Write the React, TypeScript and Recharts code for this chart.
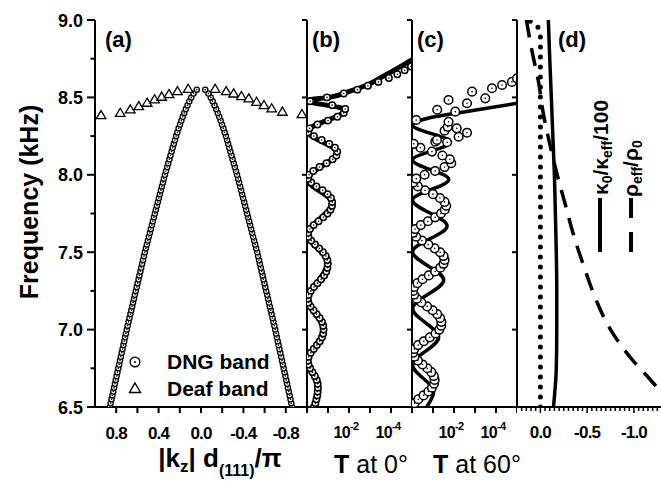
import React from 'react';
import { ScatterChart, Scatter, XAxis, YAxis } from 'recharts';

const FONT = 'Arial, "Liberation Sans", Helvetica, sans-serif';
const INK = '#000';

// shared frequency axis (kHz)
const FREQ_TICKS = [6.5, 6.75, 7.0, 7.25, 7.5, 7.75, 8.0, 8.25, 8.5, 8.75, 9.0];
const FREQ_MAJOR = [6.5, 7.0, 7.5, 8.0, 8.5, 9.0];

// (a) band structure: |kz| d(111)/pi vs frequency
const K_TICKS = [0.8, 0.6, 0.4, 0.2, 0, -0.2, -0.4, -0.6, -0.8];
const K_LABELS = [0.8, 0.4, 0, -0.4, -0.8];
const DNG_F0 = 6.5;
const DNG_STEP = 0.025;
const dngK = [
  0.86, 0.852, 0.844, 0.836, 0.828, 0.82, 0.812, 0.804, 0.796, 0.788,
  0.78, 0.772, 0.764, 0.756, 0.748, 0.74, 0.732, 0.724, 0.716, 0.708,
  0.7, 0.692, 0.683, 0.675, 0.666, 0.658, 0.649, 0.641, 0.632, 0.624,
  0.615, 0.606, 0.598, 0.589, 0.581, 0.572, 0.564, 0.555, 0.547, 0.538,
  0.53, 0.52, 0.511, 0.501, 0.492, 0.482, 0.473, 0.463, 0.454, 0.444,
  0.435, 0.426, 0.416, 0.407, 0.397, 0.388, 0.378, 0.369, 0.359, 0.35,
  0.34, 0.33, 0.319, 0.309, 0.298, 0.288, 0.277, 0.267, 0.256, 0.246,
  0.235, 0.223, 0.211, 0.198, 0.185, 0.172, 0.158, 0.143, 0.127, 0.11,
  0.092, 0.07, 0.04,
];
const deafK = [0.943, 0.762, 0.667, 0.587, 0.508, 0.438, 0.371, 0.302, 0.222, 0.121,
  -0.133, -0.238, -0.308, -0.381, -0.451, -0.524, -0.594, -0.667, -0.768, -0.952];
const deafF = [8.386, 8.401, 8.423, 8.444, 8.466, 8.488, 8.505, 8.522, 8.541, 8.556,
  8.556, 8.541, 8.526, 8.509, 8.494, 8.472, 8.451, 8.43, 8.408, 8.393];

// (b), (c) transmission, stored as log10 T
const LOG_TICKS = [0, -1, -2, -3, -4, -5];
const LOG_LABELS = [-2, -4];
const T_F0 = 6.5;
const T_STEP = 0.025;

const bLineF = [6.5, 6.625, 6.795, 7.0, 7.195, 7.43, 7.615, 7.82, 7.97, 8.145, 8.28, 8.42, 8.48,
  8.5, 8.537, 8.58, 8.634, 8.688, 8.74, 8.8];
const bLineT = [-0.33, -0.52, -0.03, -0.79, -0.03, -0.99, -0.03, -1.2, -0.03, -1.44, -0.03, -1.82, -0.03,
  -1.05, -1.98, -2.86, -3.6, -4.3, -4.95, -5.5];
const bDotT = [
  -0.33, -0.4, -0.45, -0.49, -0.51, -0.52, -0.51, -0.46, -0.37, -0.26,
  -0.15, -0.07, -0.04, -0.08, -0.18, -0.32, -0.47, -0.61, -0.71, -0.77,
  -0.79, -0.77, -0.71, -0.6, -0.46, -0.31, -0.17, -0.07, -0.04, -0.08,
  -0.18, -0.33, -0.5, -0.67, -0.82, -0.92, -0.97, -0.99, -0.97, -0.89,
  -0.76, -0.58, -0.38, -0.2, -0.07, -0.05, -0.14, -0.32, -0.55, -0.78,
  -0.98, -1.12, -1.19, -1.2, -1.14, -0.98, -0.74, -0.45, -0.2, -0.05,
  -0.1, -0.3, -0.6, -0.93, -1.22, -1.4, -1.44, -1.33, -1.06, -0.7,
  -0.33, -0.06, -0.12, -0.5, -1.0, -1.45, -1.75, -1.82, -1.2, -0.15,
  -0.95, -1.75, -2.4, -2.9, -3.4, -3.9, -4.3, -4.65, -4.95, -5.2,
];

const cLineF = [6.5, 6.6, 6.771, 6.95, 7.137, 7.32, 7.503, 7.67, 7.837, 7.97, 8.096, 8.21, 8.322,
  8.367, 8.415, 8.462, 8.5];
const cLineT = [-0.7, -1.03, -0.03, -1.27, -0.03, -1.51, -0.03, -1.67, -0.03, -1.75, -0.03, -1.83, -0.03,
  -0.8, -2.9, -5.0, -6.6];
const cDotT = [
  -0.05, -0.12, -0.3, -0.55, -0.78, -0.95, -1.05, -1.08, -1.04, -0.92,
  -0.73, -0.5, -0.28, -0.12, -0.05, -0.11, -0.29, -0.56, -0.85, -1.12,
  -1.3, -1.39, -1.4, -1.34, -1.2, -0.98, -0.72, -0.45, -0.23, -0.1,
  -0.05, -0.1, -0.26, -0.5, -0.8, -1.1, -1.35, -1.5, -1.55, -1.5,
  -1.34, -1.08, -0.78, -0.47, -0.2, -0.05, -0.15, -0.42, -0.76, -1.1,
  -1.38, -1.56, -1.63, -1.55, -1.33, -1.0, -0.62, -0.28, -0.06, -0.2,
  -0.6, -1.1, -1.55, -1.87, -1.8, -1.45, -0.95, -0.4, -0.08,
];
// scattered points near the band edge
const cTopF = [8.21, 8.214, 8.225, 8.246, 8.272, 8.285, 8.3, 8.31, 8.343, 8.354, 8.408, 8.42,
  8.462, 8.483, 8.494, 8.537, 8.559, 8.58, 8.6, 8.623];
const cTopT = [-1.67, -1.11, -1.19, -2.22, -2.62, -1.55, -2.13, -1.7, -1.74, -0.2, -2.06, -1.2,
  -2.62, -1.74, -3.49, -2.86, -3.81, -4.29, -4.76, -5.0];

// (d) effective parameters
const D_TICKS = [0.2, 0.15, 0.1, 0.05, 0, -0.05, -0.1, -0.15, -0.2, -0.25, -0.3, -0.35, -0.4, -0.45,
  -0.5, -0.55, -0.6, -0.65, -0.7, -0.75, -0.8, -0.85, -0.9, -0.95, -1.0, -1.05, -1.1, -1.15, -1.2, -1.25];
const D_LABELS = [0, -0.5, -1.0];
const kappaF = [6.5, 6.75, 7.0, 7.25, 7.5, 7.75, 8.0, 8.25, 8.5, 8.75, 9.0];
const kappaV = [-0.14, -0.17, -0.175, -0.175, -0.17, -0.16, -0.15, -0.133, -0.117, -0.1, -0.085];
const rhoF = [6.5, 6.6, 6.7, 6.8, 6.9, 7.0, 7.2, 7.4, 7.6, 7.8, 8.0, 8.2, 8.4, 8.6, 8.8, 9.0];
const rhoV = [-1.45, -1.29, -1.14, -0.99, -0.86, -0.75, -0.59, -0.47, -0.36, -0.27, -0.18, -0.1, -0.03, 0.02, 0.09, 0.15];
const zeroF = [6.5, 8.9, 8.96, 9.0];
const zeroV = [0, 0, 0.03, 0.13];

const onGrid = (f0: number, df: number, vals: number[]) =>
  vals.map((v, i) => ({ f: +(f0 + i * df).toFixed(3), v }));
const zip = (fs: number[], vs: number[]) => fs.map((f, i) => ({ f, v: vs[i] }));
const near = (list: number[], v: number) => list.some(l => Math.abs(l - v) < 1e-6);

const AXIS_LINE = { stroke: INK, strokeWidth: 2 };
const TICK_LINE = { stroke: INK, strokeWidth: 2 };
const MARGIN = { top: 20, right: 0, bottom: 0, left: 0 };
const X_AXIS_H = 76;

const ring = (r: number, sw: number) => (p: any) => (
  <g>
    <circle cx={p.cx} cy={p.cy} r={r} fill="#fff" stroke={INK} strokeWidth={sw} />
    <circle cx={p.cx} cy={p.cy} r={0.8} fill={INK} />
  </g>
);
const triangle = (p: any) => (
  <path
    d={`M${p.cx},${p.cy - 4.5}L${p.cx + 4.8},${p.cy + 3.6}L${p.cx - 4.8},${p.cy + 3.6}Z`}
    fill="#fff" stroke={INK} strokeWidth={1.3}
  />
);
const noShape = () => <g />;
const NoLabel = () => <g />;

const FreqTick = (p: any) => {
  const { x, y, payload } = p;
  const v = payload.value as number;
  const major = near(FREQ_MAJOR, v);
  return (
    <g>
      <line x1={x} x2={x - (major ? 8 : 4.5)} y1={y} y2={y} stroke={INK} strokeWidth={2} />
      {major && (
        <text x={x - 12} y={y + 6.5} textAnchor="end" fontFamily={FONT} fontWeight={700} fontSize={18} fill={INK}>
          {v.toFixed(1)}
        </text>
      )}
    </g>
  );
};

const KTick = (p: any) => {
  const { x, y, payload } = p;
  const v = payload.value as number;
  return (
    <g>
      <line x1={x} x2={x} y1={y} y2={y + 6} stroke={INK} strokeWidth={2} />
      {near(K_LABELS, v) && (
        <text x={x} y={y + 32} textAnchor="middle" fontFamily={FONT} fontWeight={700} fontSize={17} letterSpacing={-0.8} fill={INK}>
          {v.toFixed(1)}
        </text>
      )}
    </g>
  );
};

const LogTick = (p: any) => {
  const { x, y, payload } = p;
  const v = payload.value as number;
  return (
    <g>
      <line x1={x} x2={x} y1={y} y2={y + 6} stroke={INK} strokeWidth={2} />
      {near(LOG_LABELS, v) && (
        <text x={x - 3} y={y + 31} textAnchor="middle" fontFamily={FONT} fontWeight={700} fontSize={16} letterSpacing={-0.6} fill={INK}>
          10<tspan dy={-8} fontSize={11}>{v}</tspan>
        </text>
      )}
    </g>
  );
};

const DTick = (p: any) => {
  const { x, y, payload } = p;
  const v = payload.value as number;
  const major = near(D_LABELS, v);
  return (
    <g>
      <line x1={x} x2={x} y1={y} y2={y + (major ? 6 : 4)} stroke={INK} strokeWidth={1.5} />
      {major && (
        <text x={x} y={y + 31} textAnchor="middle" fontFamily={FONT} fontWeight={700} fontSize={17} letterSpacing={-0.8} fill={INK}>
          {v.toFixed(1)}
        </text>
      )}
    </g>
  );
};

// left border of panels b, c, d: ticks point back into the previous panel
const borderAxis = (
  <YAxis
    type="number" dataKey="f" domain={[6.5, 9]} allowDataOverflow ticks={FREQ_MAJOR} interval={0}
    width={10} tickSize={5} tickLine={TICK_LINE} axisLine={AXIS_LINE} tick={NoLabel}
  />
);

function TransmissionPanel({ left, lineF, lineT, dots, dotR, dotW, lineW }: {
  left: number; lineF: number[]; lineT: number[]; dots: { f: number; v: number }[];
  dotR: number; dotW: number; lineW: number;
}) {
  return (
    <div style={{ position: 'absolute', left, top: 0 }}>
      <ScatterChart width={115} height={483} margin={MARGIN}>
        <XAxis
          type="number" dataKey="v" domain={[-5, 0]} reversed allowDataOverflow ticks={LOG_TICKS} interval={0}
          height={X_AXIS_H} tickSize={0} tickMargin={0} tickLine={false} axisLine={AXIS_LINE} tick={LogTick}
        />
        {borderAxis}
        <Scatter
          data={zip(lineF, lineT)} shape={noShape} line={{ stroke: INK, strokeWidth: lineW }}
          lineType="joint" lineJointType="monotoneY" isAnimationActive={false}
        />
        <Scatter data={dots} shape={ring(dotR, dotW)} isAnimationActive={false} />
      </ScatterChart>
    </div>
  );
}

function PanelA() {
  const dngLeft = onGrid(DNG_F0, DNG_STEP, dngK);
  const dngRight = onGrid(DNG_F0, DNG_STEP, dngK.map(k => -k));
  return (
    <div style={{ position: 'absolute', left: 0, top: 0 }}>
      <ScatterChart width={307} height={483} margin={MARGIN}>
        <XAxis
          type="number" dataKey="v" domain={[-1, 1]} reversed allowDataOverflow ticks={K_TICKS} interval={0}
          height={X_AXIS_H} tickSize={0} tickMargin={0} tickLine={false} axisLine={AXIS_LINE} tick={KTick}
        />
        <YAxis
          type="number" dataKey="f" domain={[6.5, 9]} allowDataOverflow ticks={FREQ_TICKS} interval={0}
          width={95} tickSize={0} tickMargin={0} tickLine={false} axisLine={AXIS_LINE} tick={FreqTick}
        />
        <Scatter data={dngLeft} shape={ring(2.6, 1.3)} isAnimationActive={false} />
        <Scatter data={dngRight} shape={ring(2.6, 1.3)} isAnimationActive={false} />
        <Scatter data={zip(deafF, deafK)} shape={triangle} isAnimationActive={false} />
      </ScatterChart>
    </div>
  );
}

function PanelD() {
  return (
    <div style={{ position: 'absolute', left: 507, top: 0 }}>
      <ScatterChart width={155} height={483} margin={MARGIN}>
        <XAxis
          type="number" dataKey="v" domain={[-1.3, 0.25]} reversed allowDataOverflow ticks={D_TICKS} interval={0}
          height={X_AXIS_H} tickSize={0} tickMargin={0} tickLine={false} axisLine={AXIS_LINE} tick={DTick}
        />
        {borderAxis}
        <Scatter
          data={zip(zeroF, zeroV)} shape={noShape}
          line={{ stroke: INK, strokeWidth: 5, strokeDasharray: '0 10', strokeLinecap: 'round' }}
          lineType="joint" isAnimationActive={false}
        />
        <Scatter
          data={zip(kappaF, kappaV)} shape={noShape} line={{ stroke: INK, strokeWidth: 3.5 }}
          lineType="joint" lineJointType="monotoneY" isAnimationActive={false}
        />
        <Scatter
          data={zip(rhoF, rhoV)} shape={noShape} line={{ stroke: INK, strokeWidth: 3.5, strokeDasharray: '18 11' }}
          lineType="joint" lineJointType="monotoneY" isAnimationActive={false}
        />
      </ScatterChart>
    </div>
  );
}

function Overlay() {
  const bold = { fontFamily: FONT, fontWeight: 700, fill: INK } as const;
  return (
    <svg width={661} height={483} style={{ position: 'absolute', left: 0, top: 0, pointerEvents: 'none' }}>
      <text {...bold} fontSize={25} textAnchor="middle" transform="translate(38,202) rotate(-90)">Frequency (kHz)</text>

      <text {...bold} fontSize={22} x={105} y={47}>(a)</text>
      <text {...bold} fontSize={22} x={312} y={47}>(b)</text>
      <text {...bold} fontSize={22} x={417} y={47}>(c)</text>
      <text {...bold} fontSize={22} x={558} y={47}>(d)</text>

      {/* legend of (a) */}
      <circle cx={135} cy={362} r={4.8} fill="#fff" stroke={INK} strokeWidth={1.4} />
      <circle cx={135} cy={362} r={1} fill={INK} />
      <path d="M135,383L140.5,392.5L129.5,392.5Z" fill="#fff" stroke={INK} strokeWidth={1.4} />
      <text {...bold} fontSize={21} x={167} y={369}>DNG band</text>
      <text {...bold} fontSize={21} x={167} y={396}>Deaf band</text>

      {/* x titles */}
      <text {...bold} fontSize={26} x={220} y={467} textAnchor="middle">
        |k<tspan fontSize={17} dy={5}>z</tspan><tspan dy={-5}>| d</tspan>
        <tspan fontSize={16} dy={9}>(111)</tspan><tspan dy={-9}>/π</tspan>
      </text>
      <text fontFamily={FONT} fill={INK} fontSize={25} x={371} y={473} textAnchor="middle">
        <tspan fontWeight={700}>T</tspan> at 0°
      </text>
      <text fontFamily={FONT} fill={INK} fontSize={25} x={477} y={473} textAnchor="middle">
        <tspan fontWeight={700}>T</tspan> at 60°
      </text>

      {/* legend of (d) */}
      <text {...bold} fontSize={21} transform="translate(608,195) rotate(-90)">
        κ<tspan fontSize={14} dy={4}>0</tspan><tspan dy={-4}>/κ</tspan><tspan fontSize={14} dy={4}>eff</tspan><tspan dy={-4}>/100</tspan>
      </text>
      <text {...bold} fontSize={21} transform="translate(638,197) rotate(-90)">
        ρ<tspan fontSize={14} dy={4}>eff</tspan><tspan dy={-4}>/ρ</tspan><tspan fontSize={14} dy={4}>0</tspan>
      </text>
      <line x1={600} x2={600} y1={198} y2={252} stroke={INK} strokeWidth={4} />
      <line x1={631} x2={631} y1={198} y2={218} stroke={INK} strokeWidth={4} />
      <line x1={631} x2={631} y1={232} y2={252} stroke={INK} strokeWidth={4} />
    </svg>
  );
}

export default function App() {
  const bDots = onGrid(T_F0, T_STEP, bDotT);
  const cDots = [...onGrid(T_F0, T_STEP, cDotT), ...zip(cTopF, cTopT)];
  return (
    <div style={{ position: 'fixed', left: 0, top: 0, width: 661, height: 483, overflow: 'hidden', background: '#fff' }}>
      <PanelA />
      <TransmissionPanel left={297} lineF={bLineF} lineT={bLineT} dots={bDots} dotR={3.2} dotW={1.5} lineW={5} />
      <TransmissionPanel left={402} lineF={cLineF} lineT={cLineT} dots={cDots} dotR={4.3} dotW={1.5} lineW={3.5} />
      <PanelD />
      <Overlay />
    </div>
  );
}
